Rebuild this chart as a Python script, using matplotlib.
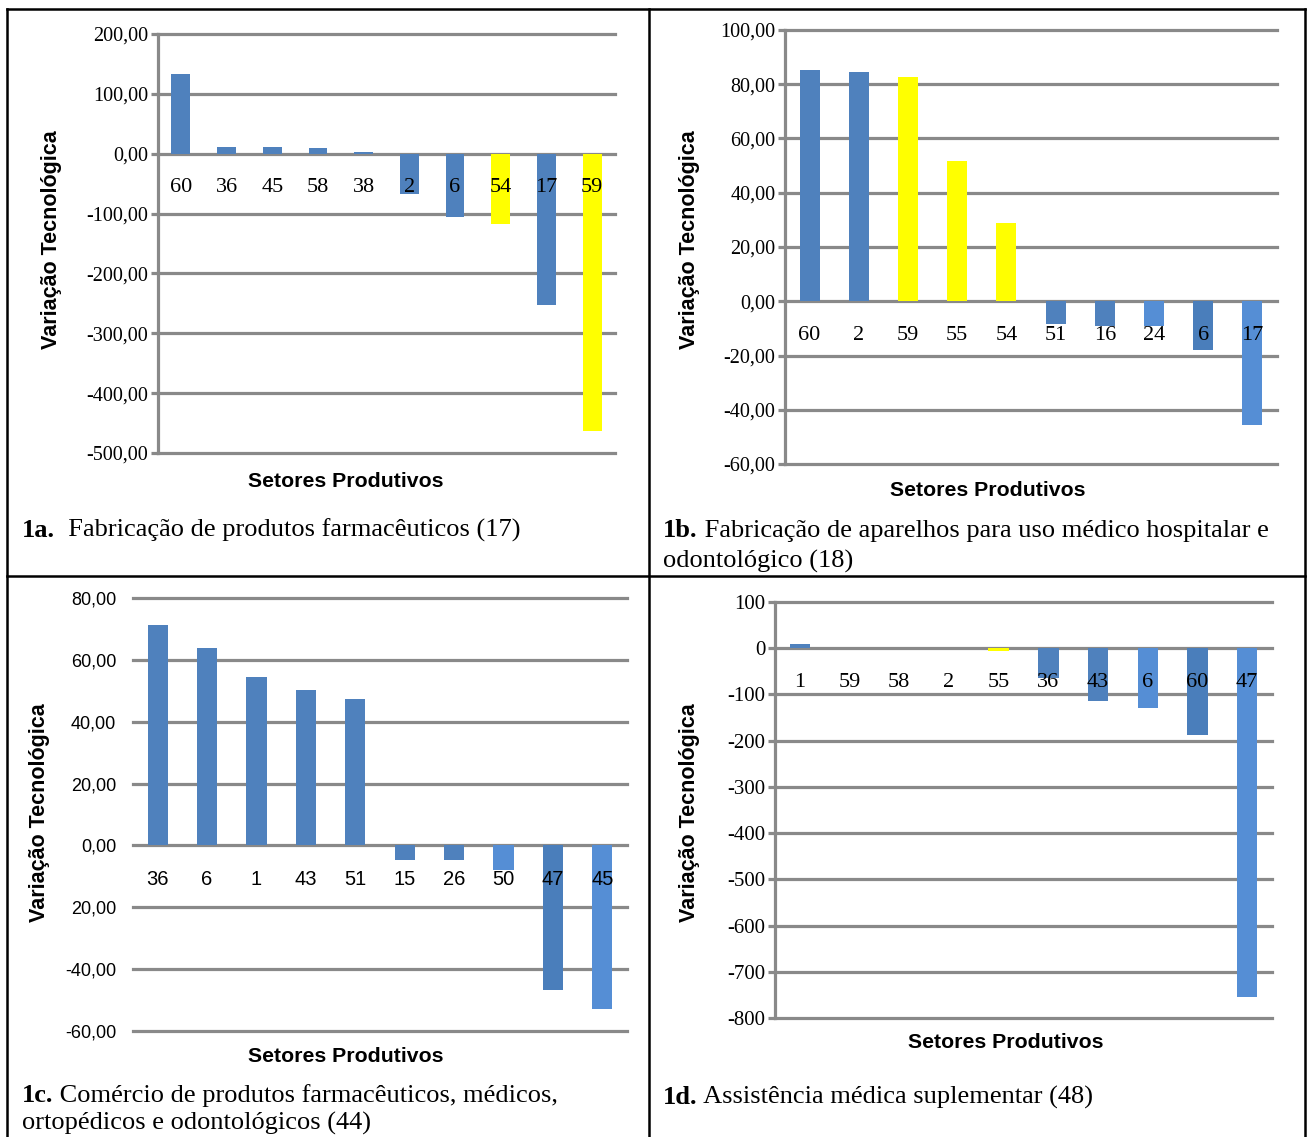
import matplotlib
matplotlib.use('Agg')
import matplotlib.pyplot as plt
from matplotlib.lines import Line2D

W, H = 1307, 1137

# dados
setores_1a = ['60', '36', '45', '58', '38', '2', '6', '54', '17', '59']
valores_1a = [132.5, 12, 12, 9, 3, -67, -106, -117.5, -252, -464]
cores_1a = ['b', 'b', 'b', 'b', 'b', 'b', 'b', 'y', 'b', 'y']
ticks_1a = [200, 100, 0, -100, -200, -300, -400, -500]
rotulos_1a = ['200,00', '100,00', '0,00', '-100,00', '-200,00', '-300,00', '-400,00', '-500,00']

setores_1b = ['60', '2', '59', '55', '54', '51', '16', '24', '6', '17']
valores_1b = [85.2, 84.5, 82.7, 51.7, 28.7, -8.5, -9.2, -9.2, -17.8, -45.8]
cores_1b = ['b', 'b', 'y', 'y', 'y', 'b', 'b', 'l', 'd', 'l']
ticks_1b = [100, 80, 60, 40, 20, 0, -20, -40, -60]
rotulos_1b = ['100,00', '80,00', '60,00', '40,00', '20,00', '0,00', '-20,00', '-40,00', '-60,00']

setores_1c = ['36', '6', '1', '43', '51', '15', '26', '50', '47', '45']
valores_1c = [71.3, 63.7, 54.5, 50.2, 47.4, -4.6, -4.6, -7.9, -46.9, -52.9]
cores_1c = ['b', 'b', 'b', 'b', 'b', 'b', 'b', 'l', 'd', 'l']
ticks_1c = [80, 60, 40, 20, 0, -20, -40, -60]
rotulos_1c = ['80,00', '60,00', '40,00', '20,00', '0,00', '20,00', '-40,00', '-60,00']

setores_1d = ['1', '59', '58', '2', '55', '36', '43', '6', '60', '47']
valores_1d = [9.3, 0, 0, 0, -5.4, -65, -115, -129, -187, -754]
cores_1d = ['b', 'b', 'b', 'b', 'y', 'b', 'b', 'l', 'd', 'l']
ticks_1d = [100, 0, -100, -200, -300, -400, -500, -600, -700, -800]
rotulos_1d = ['100', '0', '-100', '-200', '-300', '-400', '-500', '-600', '-700', '-800']

paleta = {'b': '#4F81BD', 'y': '#FFFF00', 'l': '#558ED5', 'd': '#4A7EBB'}
cinza = '#898989'
serif = ['Liberation Serif', 'DejaVu Serif']
narrow = ['Liberation Sans Narrow', 'Liberation Sans', 'DejaVu Sans']
sans = ['Liberation Sans', 'DejaVu Sans']


def caixa(l, t, r, b):
    return [l / W, 1 - b / H, (r - l) / W, (b - t) / H]


def grafico(fig, pos, setores, valores, cores, ticks, rotulos, eixo=True, fonte=serif, tam=14.5):
    ax = fig.add_axes(caixa(*pos))
    x = range(len(setores))
    ax.bar(x, valores, width=0.41, color=[paleta[c] for c in cores], zorder=2)
    for t in ticks:
        ax.axhline(t, color=cinza, lw=2.3, zorder=1, clip_on=False)
    ax.set_ylim(min(ticks), max(ticks))
    ax.set_xlim(-0.5, len(setores) - 0.5)
    ax.set_yticks(ticks)
    ax.set_yticklabels(rotulos, family=fonte, fontsize=tam)
    ax.set_xticks([])
    for s in ['top', 'right', 'bottom', 'left']:
        ax.spines[s].set_visible(False)
    if eixo:
        ax.spines['left'].set_visible(True)
        ax.spines['left'].set_color(cinza)
        ax.spines['left'].set_linewidth(2.3)
        ax.tick_params(axis='y', length=5, width=2.3, color=cinza, pad=2)
    else:
        ax.tick_params(axis='y', length=0, pad=12)
    for i, s in enumerate(setores):
        ax.annotate(s, (i, 0), xytext=(0, -24.5), textcoords='offset points',
                    ha='center', va='center', family=fonte, fontsize=16 if fonte == serif else 14.5,
                    zorder=3)
    return ax


fig = plt.figure(figsize=(W / 100, H / 100), dpi=100)

grafico(fig, (158, 34, 615, 453), setores_1a, valores_1a, cores_1a, ticks_1a, rotulos_1a)
grafico(fig, (785, 30, 1277, 464), setores_1b, valores_1b, cores_1b, ticks_1b, rotulos_1b)
grafico(fig, (133, 598, 627, 1031), setores_1c, valores_1c, cores_1c, ticks_1c, rotulos_1c,
        eixo=False, fonte=narrow, tam=13)
grafico(fig, (775, 602, 1272, 1018), setores_1d, valores_1d, cores_1d, ticks_1d, rotulos_1d,
        tam=15)

# titulos dos eixos
for cx, cy in [(52, 240), (690, 240), (40, 813), (690, 813)]:
    fig.text(cx / W, 1 - cy / H, 'Variação Tecnológica', rotation=90, ha='center', va='center',
             family=sans, fontweight='bold', fontsize=15.5)
for cx, cy in [(346, 481), (988, 490), (346, 1057), (1006, 1043)]:
    fig.text(cx / W, 1 - cy / H, 'Setores Produtivos', ha='center', va='center',
             family=sans, fontweight='bold', fontsize=15.3)

# legendas das figuras (parte em negrito + resto na mesma linha de base)
tam_leg = 19
renderer = fig.canvas.get_renderer()
for x, y, negrito, resto in [(22, 537, '1a.', '  Fabricação de produtos farmacêuticos (17)'),
                             (663, 537, '1b.', ' Fabricação de aparelhos para uso médico hospitalar e'),
                             (22, 1102, '1c.', ' Comércio de produtos farmacêuticos, médicos,'),
                             (663, 1104, '1d.', ' Assistência médica suplementar (48)')]:
    t = fig.text(x / W, 1 - y / H, negrito, ha='left', va='baseline', family=serif,
                 fontweight='bold', fontsize=tam_leg)
    x1 = t.get_window_extent(renderer).x1
    fig.text(x1 / W, 1 - y / H, resto, ha='left', va='baseline', family=serif, fontsize=tam_leg)
fig.text(663 / W, 1 - 568 / H, 'odontológico (18)', ha='left', va='baseline', family=serif, fontsize=tam_leg)
fig.text(22 / W, 1 - 1130 / H, 'ortopédicos e odontológicos (44)', ha='left', va='baseline',
         family=serif, fontsize=tam_leg)

# linhas da tabela
for x0, y0, x1, y1 in [(7, 9, 1305, 9), (7, 9, 7, H), (1305, 9, 1305, H),
                       (649, 9, 649, H), (7, 576, 1305, 576)]:
    fig.add_artist(Line2D([x0 / W, x1 / W], [1 - y0 / H, 1 - y1 / H], transform=fig.transFigure,
                          color='black', lw=1.8))

fig.savefig('out.png', dpi=100)
